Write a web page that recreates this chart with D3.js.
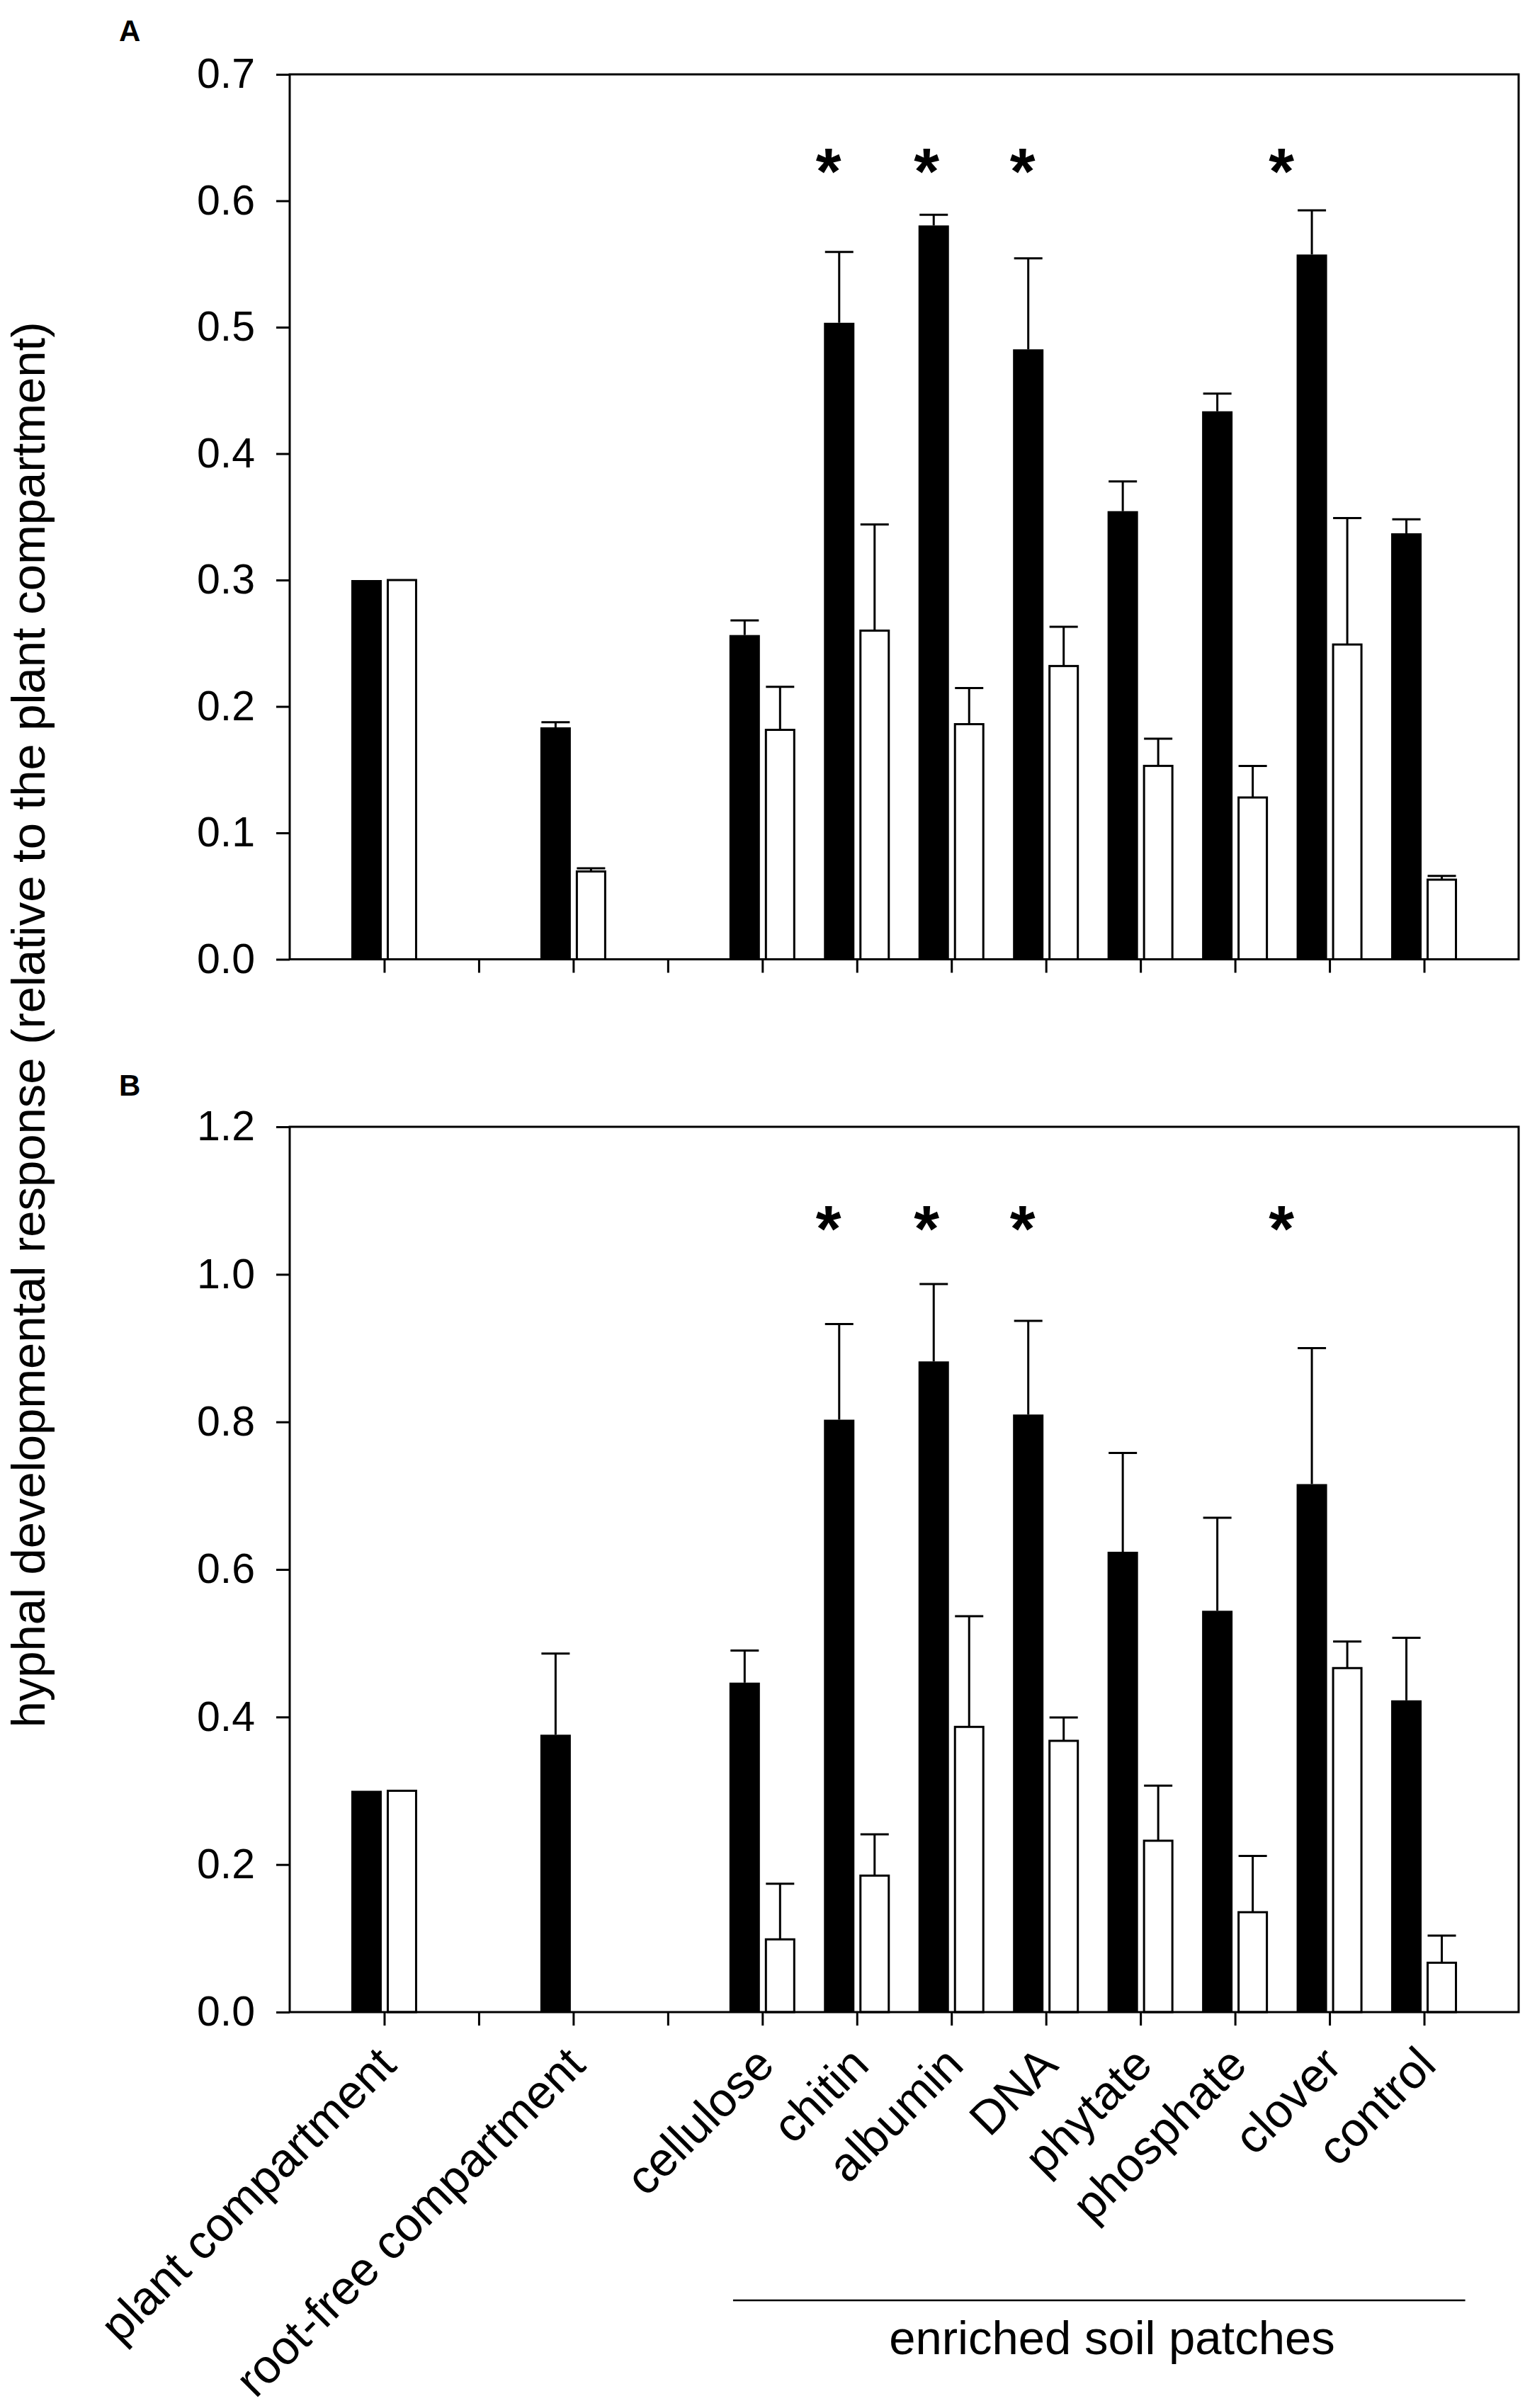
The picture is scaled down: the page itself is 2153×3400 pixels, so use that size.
<!DOCTYPE html>
<html>
<head>
<meta charset="utf-8">
<script src="https://cdn.jsdelivr.net/npm/d3@7"></script>
<style>
  html, body { margin: 0; padding: 0; background: #fff; }
  svg { display: block; }
  text { font-family: "Liberation Sans", Arial, Helvetica, sans-serif; fill: #000; }
</style>
</head>
<body>
<svg id="chart" width="2153" height="3400"></svg>
<script>
// ---------------- DATA ----------------
// 12 slots on the x axis; empty strings are unlabeled spacer ticks
const categories = ["plant compartment", "", "root-free compartment", "", "cellulose", "chitin",
                    "albumin", "DNA", "phytate", "phosphate", "clover", "control"];
const slotKeys = categories.map((c, i) => "s" + i);

// Panel A
const aBlack    = [0.300, null, 0.1835, null, 0.2565, 0.5035, 0.5805, 0.4825, 0.3545, 0.4335, 0.5575, 0.337];
const aBlackErr = [null,  null, 0.004,  null, 0.0115, 0.056,  0.0085, 0.072,  0.0235, 0.014,  0.035,  0.011];
const aWhite    = [0.300, null, 0.0695, null, 0.1815, 0.260,  0.186,  0.232,  0.153,  0.128,  0.249,  0.063];
const aWhiteErr = [null,  null, 0.0025, null, 0.034,  0.084,  0.0285, 0.031,  0.0215, 0.025,  0.100,  0.003];

// Panel B
const bBlack    = [0.300, null, 0.376, null, 0.4466, 0.803,  0.882, 0.810,  0.624,  0.544,  0.7157, 0.4226];
const bBlackErr = [null,  null, 0.110, null, 0.0434, 0.1296, 0.105, 0.127,  0.134,  0.126,  0.1843, 0.0848];
const bWhite    = [0.300, null, null,  null, 0.0986, 0.185,  0.3866, 0.3677, 0.2323, 0.1354, 0.4663, 0.0669];
const bWhiteErr = [null,  null, null,  null, 0.0754, 0.056,  0.150,  0.0317, 0.0747, 0.0763, 0.036,  0.0368];

// significance markers
const starCats = ["chitin", "albumin", "DNA", "clover"];
const aStarValue = 0.637;
const bStarValue = 1.086;

// axis ticks
const aTicks = [0, 0.1, 0.2, 0.3, 0.4, 0.5, 0.6, 0.7];
const bTicks = [0, 0.2, 0.4, 0.6, 0.8, 1.0, 1.2];

const yTitle = "hyphal developmental response (relative to the plant compartment)";
const groupTitle = "enriched soil patches";
const groupCats = ["cellulose", "control"];

// ---------------- LAYOUT ----------------
const L = {
  left: 409, right: 2144,
  A: { top: 105, bottom: 1354.5, domain: [0, 0.7], ticks: aTicks, letter: "A", letterY: 58 },
  B: { top: 1591, bottom: 2841, domain: [0, 1.2], ticks: bTicks, letter: "B", letterY: 1547 },
  letterX: 168,
  barGap: 3.5, barW: 43,
  capW: 40,
  stroke: 3,
  tickLen: 19,
  tickFont: 59, labelFont: 67, letterFont: 42, starFont: 92,
  starDx: { chitin: -40, albumin: -35, DNA: -33, clover: -68 },
  yTitleX: 63,
};

const svg = d3.select("#chart");

const x = d3.scalePoint().domain(slotKeys).range([L.left, L.right]).padding(1);
const catX = name => x(slotKeys[categories.indexOf(name)]);

function drawPanel(P, black, blackErr, white, whiteErr, starVal) {
  const y = d3.scaleLinear().domain(P.domain).range([P.bottom, P.top]);
  const g = svg.append("g");

  const rows = slotKeys.map((k, i) => ({ k, i, b: black[i], be: blackErr[i], w: white[i], we: whiteErr[i] }));

  // error bars (upward only)
  const errs = [];
  rows.forEach(r => {
    if (r.b != null && r.be != null) errs.push({ cx: x(r.k) - L.barGap - L.barW / 2, v: r.b, e: r.be });
    if (r.w != null && r.we != null) errs.push({ cx: x(r.k) + L.barGap + L.barW / 2, v: r.w, e: r.we });
  });
  const eg = g.append("g").attr("stroke", "#000").attr("stroke-width", L.stroke).attr("fill", "none");
  eg.selectAll("line.stem").data(errs).join("line")
    .attr("x1", d => d.cx).attr("x2", d => d.cx)
    .attr("y1", d => y(d.v)).attr("y2", d => y(d.v + d.e));
  eg.selectAll("line.cap").data(errs).join("line")
    .attr("x1", d => d.cx - L.capW / 2).attr("x2", d => d.cx + L.capW / 2)
    .attr("y1", d => y(d.v + d.e)).attr("y2", d => y(d.v + d.e));

  g.selectAll("rect.black").data(rows.filter(r => r.b != null)).join("rect")
    .attr("x", d => x(d.k) - L.barGap - L.barW)
    .attr("width", L.barW)
    .attr("y", d => y(d.b))
    .attr("height", d => y(0) - y(d.b))
    .attr("fill", "#000");

  g.selectAll("rect.white").data(rows.filter(r => r.w != null)).join("rect")
    .attr("x", d => x(d.k) + L.barGap + L.stroke / 2)
    .attr("width", L.barW - L.stroke)
    .attr("y", d => y(d.w))
    .attr("height", d => y(0) - y(d.w))
    .attr("fill", "#fff").attr("stroke", "#000").attr("stroke-width", L.stroke);

  // frame
  g.append("rect")
    .attr("x", L.left).attr("y", P.top)
    .attr("width", L.right - L.left).attr("height", P.bottom - P.top)
    .attr("fill", "none").attr("stroke", "#000").attr("stroke-width", L.stroke);

  // y axis
  const yAxis = d3.axisLeft(y).tickValues(P.ticks).tickFormat(d3.format(".1f"))
    .tickSize(L.tickLen).tickPadding(30);
  const ya = g.append("g").attr("transform", `translate(${L.left},0)`).call(yAxis);
  ya.select(".domain").remove();
  ya.selectAll(".tick line").attr("stroke", "#000").attr("stroke-width", L.stroke);
  ya.selectAll(".tick text").attr("font-size", L.tickFont)
    .attr("font-family", '"Liberation Sans", Arial, sans-serif').attr("fill", "#000");

  // x axis ticks
  const xAxis = d3.axisBottom(x).tickSize(L.tickLen).tickFormat("");
  const xa = g.append("g").attr("transform", `translate(0,${P.bottom})`).call(xAxis);
  xa.select(".domain").remove();
  xa.selectAll(".tick line").attr("stroke", "#000").attr("stroke-width", L.stroke);

  // stars
  g.selectAll("text.star").data(starCats).join("text")
    .attr("x", d => catX(d) + L.starDx[d])
    .attr("y", y(starVal))
    .attr("dy", "0.62em")
    .attr("text-anchor", "middle")
    .attr("font-size", L.starFont).attr("font-weight", "bold")
    .text("*");

  // panel letter
  g.append("text").attr("x", L.letterX).attr("y", P.letterY)
    .attr("font-size", L.letterFont).attr("font-weight", "bold").text(P.letter);

  return y;
}

drawPanel(L.A, aBlack, aBlackErr, aWhite, aWhiteErr, aStarValue);
drawPanel(L.B, bBlack, bBlackErr, bWhite, bWhiteErr, bStarValue);

// x category labels (under panel B)
svg.append("g").selectAll("text").data(categories.map((c, i) => ({ c, k: slotKeys[i] })).filter(d => d.c))
  .join("text")
  .attr("transform", d => `translate(${x(d.k) + 20},${L.B.bottom + 78}) rotate(-45)`)
  .attr("text-anchor", "end")
  .attr("font-size", L.labelFont)
  .text(d => d.c);

// group line + title
const step = x.step();
const gx1 = catX(groupCats[0]) - 0.31 * step;
const gx2 = catX(groupCats[1]) + 0.435 * step;
svg.append("line").attr("x1", gx1).attr("x2", gx2).attr("y1", 3248).attr("y2", 3248)
  .attr("stroke", "#000").attr("stroke-width", 2.5);
svg.append("text").attr("x", 1570).attr("y", 3324).attr("text-anchor", "middle")
  .attr("font-size", L.labelFont).text(groupTitle);

// y title
svg.append("text")
  .attr("transform", `translate(${L.yTitleX},${(L.A.top + L.B.bottom) / 2 - 26}) rotate(-90)`)
  .attr("text-anchor", "middle")
  .attr("font-size", L.labelFont)
  .text(yTitle);
</script>
</body>
</html>
